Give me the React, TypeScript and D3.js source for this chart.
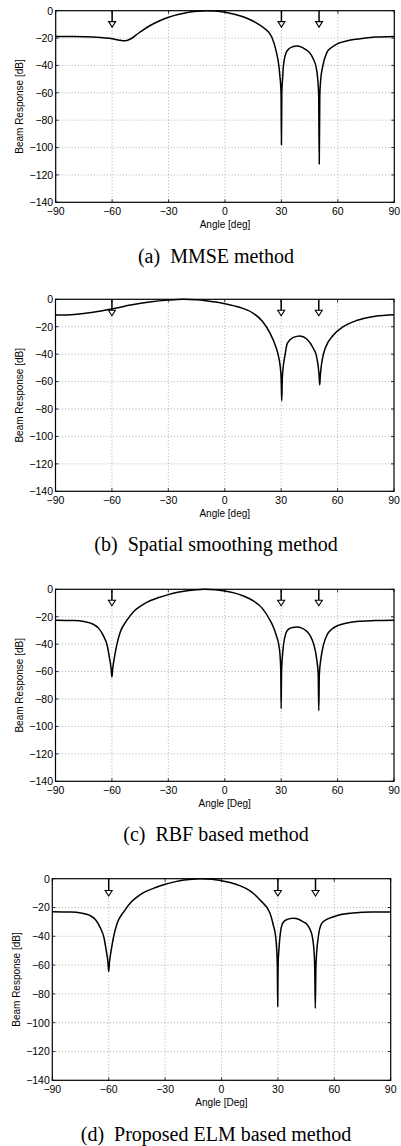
import React from 'react';
import * as d3 from 'd3';

// axis ticks (deg / dB)
const xTicks = [-90, -60, -30, 0, 30, 60, 90];
const yTicks = [0, -20, -40, -60, -80, -100, -120, -140];

// interference directions marked with arrows
const arrowAngles = [-60, 30, 50];
const arrowTipDb = -12;

// beam responses: [angle deg, response dB]
const mmse: [number, number][] = [
  [-90, -18.8], [-80, -18.8], [-70, -19.2], [-65, -19.8], [-60, -20.5], [-56, -21.6],
  [-53, -22], [-50, -20.5], [-47, -17.5], [-44, -14.5], [-40, -11], [-35, -7.5],
  [-30, -4.8], [-25, -2.8], [-20, -1.3], [-15, -0.4], [-10, 0], [-5, -0.3], [0, -1.2],
  [5, -2.6], [10, -4.6], [14, -7], [17, -9.2], [21, -13], [24.8, -19], [27.1, -29],
  [28.7, -41], [29.2, -48], [29.8, -60], [30, -98], [30.2, -60], [30.7, -48], [31, -41],
  [32.4, -31], [34, -27.8], [36, -26.3], [38, -25.8], [41, -26.8], [43, -28.5],
  [45.2, -31], [47, -35.5], [48.4, -41], [49.3, -50], [49.8, -62], [50.1, -112],
  [50.4, -62], [50.9, -50], [51.9, -41], [54, -31], [57, -26.5], [60, -24], [65, -22],
  [70, -20.8], [80, -19.3], [90, -18.8],
];

const spatial: [number, number][] = [
  [-90, -11.5], [-80, -11], [-70, -9.5], [-60, -7], [-50, -4.2], [-40, -2], [-30, -0.6],
  [-22, 0], [-15, -0.4], [-10, -1.1], [-5, -2], [0, -3.2], [5, -4.8], [10, -6.8],
  [15, -10], [20, -16], [24, -24.5], [27, -34], [28.5, -41], [29.4, -48], [30, -58],
  [30.3, -74], [30.6, -58], [31.2, -48], [32, -41], [33.3, -32], [36.5, -27.8],
  [40, -26.7], [43.6, -29], [47, -35.5], [48.7, -41], [49.6, -48], [50.2, -56],
  [50.5, -62.5], [50.8, -56], [51.4, -48], [52.3, -41], [53.5, -35.5], [57.8, -26],
  [63, -20], [70, -15.5], [80, -12.3], [90, -11.2],
];

const rbf: [number, number][] = [
  [-90, -22.5], [-80, -22.8], [-75, -23.5], [-70, -25.5], [-67, -28.5], [-64.5, -34],
  [-62.5, -41], [-61.3, -50], [-60.4, -58], [-60, -64], [-59.6, -58], [-58.7, -50],
  [-57.5, -41], [-55.5, -31], [-52, -22.5], [-48.5, -16.3], [-45, -12.5], [-41.5, -9.5],
  [-35, -6], [-30, -3.9], [-25, -2.2], [-20, -1], [-15, -0.3], [-11, 0], [-5, -0.3],
  [0, -1.2], [5, -2.6], [10, -4.9], [15, -8.3], [20, -13.9], [24, -22.4], [26, -28],
  [27.5, -34], [28.8, -41], [29.5, -50], [29.8, -60], [30, -87], [30.2, -60],
  [30.6, -50], [31.2, -41], [32.5, -32], [34, -29], [36, -27.8], [38.5, -27.5],
  [41, -28.3], [43.5, -30.5], [45.5, -34], [47.3, -40], [48.8, -50], [49.7, -62],
  [50, -88.5], [50.3, -62], [51.2, -50], [52.6, -40], [54.5, -33], [57, -29],
  [60, -26.5], [65, -24.5], [70, -23.5], [80, -22.8], [90, -22.5],
];

const elm: [number, number][] = [
  [-90, -22.9], [-80, -23.2], [-75, -23.8], [-70, -25.5], [-67, -28.5], [-64.5, -34],
  [-62.5, -41], [-61.3, -50], [-60.4, -58], [-60, -64.5], [-59.6, -58], [-58.7, -50],
  [-57.5, -41], [-55.5, -31], [-52, -23], [-48.5, -16.8], [-45, -12.8], [-41.5, -9.7],
  [-35, -6.1], [-30, -3.9], [-25, -2.2], [-20, -0.9], [-15, -0.3], [-11, 0], [-5, -0.3],
  [0, -1.4], [5, -2.8], [10, -5], [15, -8.3], [20.5, -14.8], [25.8, -24], [27.5, -32],
  [28.8, -40.3], [29.4, -50], [29.7, -60], [29.9, -88.7], [30.1, -60], [30.5, -50],
  [31.1, -40.3], [32.5, -31], [34.5, -28.5], [38.2, -27.5], [41, -28.2], [43.5, -30],
  [45.3, -31.5], [47, -35], [48.3, -40.3], [49.2, -50], [49.6, -62], [49.9, -90],
  [50.2, -62], [50.7, -50], [51.5, -40.3], [53.3, -31], [56, -28.3], [60, -26.3],
  [63, -25], [70, -23.8], [80, -23.2], [90, -23.2],
];

const series = [mmse, spatial, rbf, elm];
const xLabels = ['Angle [deg]', 'Angle [deg]', 'Angle [Deg]', 'Angle [Deg]'];
const captions = [
  '(a)\u00a0\u00a0MMSE method',
  '(b)\u00a0\u00a0Spatial smoothing method',
  '(c)\u00a0\u00a0RBF based method',
  '(d)\u00a0\u00a0Proposed ELM based method',
];

// plot boxes on the page
const layouts = [
  { left: 55.7, top: 10.7, width: 338.6, height: 191.6, captionY: 263 },
  { left: 55.5, top: 299.3, width: 338.5, height: 192, captionY: 551 },
  { left: 55.5, top: 589.3, width: 338.5, height: 192, captionY: 841 },
  { left: 52.3, top: 878.7, width: 338.4, height: 201.6, captionY: 1141 },
];

const sans = '"Liberation Sans", Arial, Helvetica, sans-serif';
const serif = '"Liberation Serif", "Times New Roman", serif';
const fmt = (v: number) => (v < 0 ? '\u2212' + Math.abs(v) : String(v));

const Panel = ({ data, layout, xLabel, caption }) => {
  const { left, top, width, height, captionY } = layout;
  const x = d3.scaleLinear().domain([-90, 90]).range([left, left + width]);
  const y = d3.scaleLinear().domain([-140, 0]).range([top + height, top]);
  const line = d3.line<[number, number]>()
    .x(d => x(d[0]))
    .y(d => y(d[1]))
    .curve(d3.curveMonotoneX);
  const bottom = top + height;
  const right = left + width;
  const tk = 3;

  return (
    <g>
      {/* grid */}
      {xTicks.slice(1, -1).map(t => (
        <line key={'gx' + t} x1={x(t)} x2={x(t)} y1={top} y2={bottom}
          stroke="#777" strokeWidth={0.6} strokeDasharray="1 2.2" />
      ))}
      {yTicks.slice(1, -1).map(t => (
        <line key={'gy' + t} x1={left} x2={right} y1={y(t)} y2={y(t)}
          stroke="#777" strokeWidth={0.6} strokeDasharray="1 2.2" />
      ))}

      {/* inner ticks */}
      {xTicks.map(t => (
        <g key={'tx' + t} stroke="#000" strokeWidth={0.8}>
          <line x1={x(t)} x2={x(t)} y1={bottom} y2={bottom - tk} />
          <line x1={x(t)} x2={x(t)} y1={top} y2={top + tk} />
        </g>
      ))}
      {yTicks.map(t => (
        <g key={'ty' + t} stroke="#000" strokeWidth={0.8}>
          <line x1={left} x2={left + tk} y1={y(t)} y2={y(t)} />
          <line x1={right} x2={right - tk} y1={y(t)} y2={y(t)} />
        </g>
      ))}

      {/* response curve */}
      <path d={line(data) || ''} fill="none" stroke="#000" strokeWidth={1.5}
        strokeLinejoin="round" />

      {/* arrows */}
      {arrowAngles.map(a => {
        const ax = x(a);
        const tip = y(arrowTipDb);
        const base = tip - 5.5;
        return (
          <g key={'ar' + a}>
            <line x1={ax} x2={ax} y1={top} y2={base} stroke="#000" strokeWidth={1.5} />
            <path d={`M${ax - 3.5},${base}L${ax + 3.5},${base}L${ax},${tip}Z`}
              fill="#fff" stroke="#000" strokeWidth={1.1} strokeLinejoin="miter" />
          </g>
        );
      })}

      {/* frame */}
      <rect x={left} y={top} width={width} height={height} fill="none"
        stroke="#000" strokeWidth={1.2} />

      {/* tick labels */}
      {xTicks.map(t => (
        <text key={'lx' + t} x={x(t)} y={bottom + 12.5} textAnchor="middle"
          fontFamily={sans} fontSize={10.5} fill="#000">{fmt(t)}</text>
      ))}
      {yTicks.map(t => (
        <text key={'ly' + t} x={left - 2.5} y={y(t) + 3.8} textAnchor="end"
          fontFamily={sans} fontSize={10.5} fill="#000">{fmt(t)}</text>
      ))}

      {/* axis labels */}
      <text x={x(0)} y={bottom + 25.3} textAnchor="middle" fontFamily={sans}
        fontSize={10} fill="#000">{xLabel}</text>
      <text transform={`translate(${left - 32.8},${top + height / 2}) rotate(-90)`}
        textAnchor="middle" fontFamily={sans} fontSize={10} fill="#000">
        Beam Response [dB]
      </text>

      {/* caption */}
      <text x={216} y={captionY} textAnchor="middle" fontFamily={serif}
        fontSize={20} fill="#000">{caption}</text>
    </g>
  );
};

export default function App() {
  return (
    <svg width={401} height={1146}
      style={{ position: 'absolute', left: 0, top: 0, background: '#fff' }}>
      <rect width={401} height={1146} fill="#fff" />
      {series.map((s, i) => (
        <Panel key={i} data={s} layout={layouts[i]} xLabel={xLabels[i]} caption={captions[i]} />
      ))}
    </svg>
  );
}
